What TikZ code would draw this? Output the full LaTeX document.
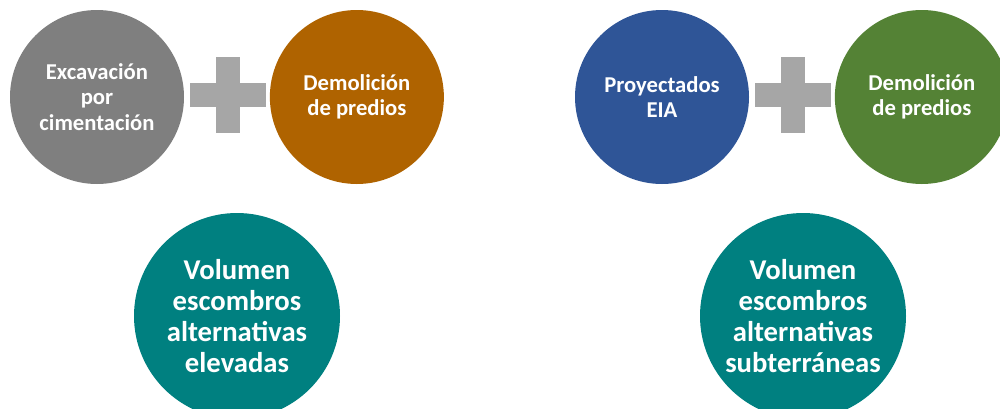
\documentclass[tikz,border=0pt]{standalone}
\usepackage{fontspec}
\setmainfont{Carlito}
\usetikzlibrary{positioning, calc}

\definecolor{stonegray}{RGB}{127,127,127}
\definecolor{clayorange}{RGB}{175,99,0}
\definecolor{eiablue}{RGB}{47,85,151}
\definecolor{leafgreen}{RGB}{84,130,53}
\definecolor{volteal}{RGB}{0,128,128}
\definecolor{plusgray}{RGB}{166,166,166}

\begin{document}
\begin{tikzpicture}[
    x=0.75pt, y=-0.75pt,
    node distance=64pt,
    src/.style={
      circle, minimum size=130.5pt, inner sep=0pt,
      text=white, align=center,
      font=\bfseries\fontsize{17}{19.2}\selectfont
    },
    vol/.style={
      circle, fill=volteal, minimum size=154.5pt, inner sep=0pt,
      text=white, align=center,
      font=\bfseries\fontsize{21.5}{23.3}\selectfont
    },
    hbar/.style={fill=plusgray, minimum width=57pt, minimum height=18pt, inner sep=0pt},
    vbar/.style={fill=plusgray, minimum width=18pt, minimum height=57pt, inner sep=0pt}
  ]
  \useasboundingbox (0,0) rectangle (1000,408);
  \clip (0,0) rectangle (1000,408);

  % elevadas
  \node[src, fill=stonegray]              (exc)  at (97,97) {Excavación\\por\\cimentación};
  \node[src, fill=clayorange, right=of exc] (demA) {Demolición\\de predios};
  \node[hbar] (plusAh) at ($(exc)!0.5!(demA)+(1.5,-2)$) {};
  \node[vbar] (plusAv) at (plusAh) {};
  \node[vol] (volA) at (237,316) {Volumen\\escombros\\alternativas\\elevadas};

  % subterraneas
  \node[src, fill=eiablue]                (eia)  at (662,97) {Proyectados\\EIA};
  \node[src, fill=leafgreen, right=of eia] (demB) {Demolición\\de predios};
  \node[hbar] (plusBh) at ($(eia)!0.5!(demB)+(1.5,-2)$) {};
  \node[vbar] (plusBv) at (plusBh) {};
  \node[vol] (volB) at (803,316) {Volumen\\escombros\\alternativas\\subterráneas};
\end{tikzpicture}
\end{document}
